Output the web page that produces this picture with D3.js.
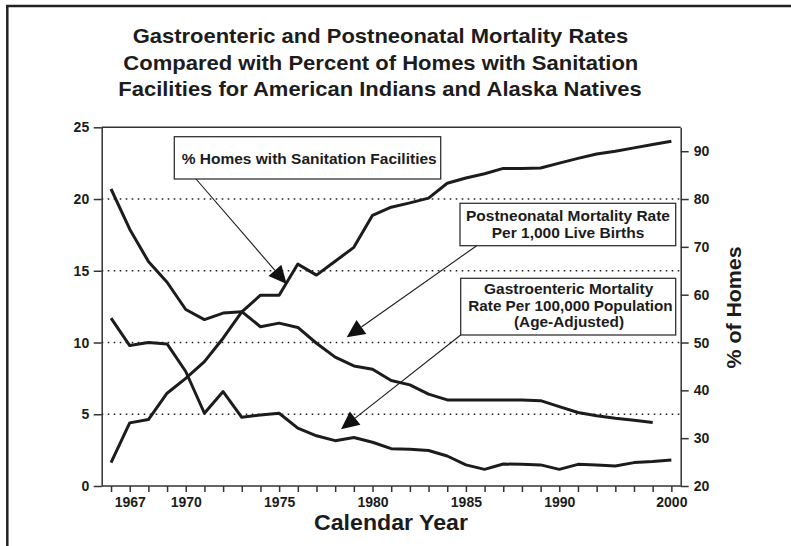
<!DOCTYPE html>
<html>
<head>
<meta charset="utf-8">
<script src="https://cdn.jsdelivr.net/npm/d3@7"></script>
<style>
  html, body { margin: 0; padding: 0; background: #fff; }
  svg { display: block; font-family: "Liberation Sans", Arial, Helvetica, sans-serif; }
</style>
</head>
<body>
<svg id="chart" width="791" height="546"></svg>
<script>
// ---- DATA ----
const years = ["1966","1967","1968","1969","1970","1971","1972","1973","1974","1975",
               "1976","1977","1978","1979","1980","1981","1982","1983","1984","1985",
               "1986","1987","1988","1989","1990","1991","1992","1994","1996","1998","2000"];
const tickLabels = ["1967","1970","1975","1980","1985","1990","2000"];
const postneonatal = [20.7, 17.9, 15.65, 14.2, 12.3, 11.6, 12.05, 12.15, 11.1, 11.35,
                      11.05, 9.95, 8.98, 8.37, 8.14, 7.35, 7.05, 6.4, 6.0, 6.0,
                      6.0, 6.0, 6.0, 5.95, 5.53, 5.12, 4.9, 4.72, 4.58, 4.42, null];
const gastro = [11.7, 9.79, 10.0, 9.9, 7.98, 5.07, 6.58, 4.79, 4.95, 5.07,
                4.03, 3.5, 3.16, 3.38, 3.05, 2.6, 2.56, 2.47, 2.09, 1.47,
                1.16, 1.53, 1.51, 1.47, 1.16, 1.51, 1.47, 1.40, 1.63, 1.70, 1.81];
const homes = [24.9, 33.2, 33.9, 39.4, 42.5, 46.0, 50.9, 56.4, 59.9, 59.9,
               66.4, 64.1, 67.0, 69.9, 76.6, 78.3, 79.2, 80.2, 83.3, 84.4,
               85.3, 86.4, 86.4, 86.5, 87.5, 88.5, 89.4, 90.0, 90.7, 91.4, 92.1];
const leftTicks = [0, 5, 10, 15, 20, 25];
const rightTicks = [20, 30, 40, 50, 60, 70, 80, 90];
const gridValues = [5, 10, 15, 20];
const titleLines = ["Gastroenteric and Postneonatal Mortality Rates",
                    "Compared with Percent of Homes with Sanitation",
                    "Facilities for American Indians and Alaska Natives"];

// ---- LAYOUT ----
const L = 101.7, R = 680.7, T = 127.3, B = 486;
const svg = d3.select("#chart");
const ink = "#1c1c1c";

const x = d3.scalePoint().domain(years).range([L, R]).padding(0.5);
const yL = d3.scaleLinear().domain([0, 25]).range([B, T]);
const yR = d3.scaleLinear().domain([20, 95]).range([B, T]);

// outer frame (top + left edges)
svg.append("line").attr("x1", 6).attr("x2", 791).attr("y1", 6).attr("y2", 6)
  .attr("stroke", "#222").attr("stroke-width", 2.5);
svg.append("line").attr("x1", 7.3).attr("x2", 7.3).attr("y1", 5).attr("y2", 546)
  .attr("stroke", "#222").attr("stroke-width", 2.5);

// title
const titleX = [132.7, 123.3, 118.3], titleW = [495.6, 515, 523.4], titleY = [43, 69.5, 96];
titleLines.forEach((t, i) => {
  svg.append("text").attr("x", titleX[i]).attr("y", titleY[i])
    .attr("font-size", 21).attr("font-weight", "bold").attr("fill", ink)
    .attr("textLength", titleW[i]).attr("lengthAdjust", "spacingAndGlyphs")
    .text(t);
});

// gridlines
svg.append("g").selectAll("line").data(gridValues).join("line")
  .attr("x1", L).attr("x2", R)
  .attr("y1", d => yL(d)).attr("y2", d => yL(d))
  .attr("stroke", "#222").attr("stroke-width", 1.6)
  .attr("stroke-dasharray", "1.6,4.4");

// top border of plot
svg.append("line").attr("x1", L).attr("x2", R).attr("y1", T).attr("y2", T)
  .attr("stroke", "#333").attr("stroke-width", 1.5);

function styleAxis(g) {
  g.select(".domain").attr("stroke", "#333").attr("stroke-width", 1.5);
  g.selectAll(".tick line").attr("stroke", "#333").attr("stroke-width", 1.5);
  g.selectAll(".tick text").attr("fill", ink).attr("font-size", 14)
    .attr("font-weight", "bold").attr("font-family", "'Liberation Sans', Arial, sans-serif");
}

// left axis
const gL = svg.append("g").attr("transform", `translate(${L},0)`)
  .call(d3.axisLeft(yL).tickValues(leftTicks).tickSize(8).tickSizeOuter(0).tickPadding(4.5));
styleAxis(gL);

// right axis
const gR = svg.append("g").attr("transform", `translate(${R},0)`)
  .call(d3.axisRight(yR).tickValues(rightTicks).tickSize(8).tickSizeOuter(0).tickPadding(5));
styleAxis(gR);

// bottom axis
const gB = svg.append("g").attr("transform", `translate(0,${B})`)
  .call(d3.axisBottom(x).tickSize(6).tickSizeOuter(0)
        .tickFormat(d => tickLabels.includes(d) ? d : ""));
styleAxis(gB);
gB.selectAll(".tick text").attr("y", 11);
gB.select(".domain").attr("d", `M${L},0H${R}`);

// series lines
const lineL = d3.line().defined(d => d[1] != null).x(d => x(d[0])).y(d => yL(d[1]));
const lineR = d3.line().defined(d => d[1] != null).x(d => x(d[0])).y(d => yR(d[1]));
const series = [
  { vals: postneonatal, gen: lineL },
  { vals: gastro, gen: lineL },
  { vals: homes, gen: lineR }
];
series.forEach(s => {
  svg.append("path").datum(years.map((y, i) => [y, s.vals[i]]))
    .attr("d", s.gen).attr("fill", "none").attr("stroke", ink)
    .attr("stroke-width", 3).attr("stroke-linejoin", "round");
});

// annotation boxes
const boxes = [
  { x0: 174.3, y0: 136.7, x1: 440.7, y1: 179,
    lines: [{ t: "% Homes with Sanitation Facilities", x: 181.7, y: 164, w: 255, anchor: "start" }] },
  { x0: 460, y0: 203.3, x1: 675.7, y1: 245.7,
    lines: [{ t: "Postneonatal Mortality Rate", x: 568, y: 220.7, w: 204 },
            { t: "Per 1,000 Live Births", x: 568, y: 237.7, w: 152.6 }] },
  { x0: 460.7, y0: 278.3, x1: 675.7, y1: 335,
    lines: [{ t: "Gastroenteric Mortality", x: 568.7, y: 293.5, w: 169.3 },
            { t: "Rate Per 100,000 Population", x: 570.5, y: 310.5, w: 204.4 },
            { t: "(Age-Adjusted)", x: 569, y: 326.5, w: 110 }] }
];
boxes.forEach(b => {
  svg.append("rect").attr("x", b.x0).attr("y", b.y0)
    .attr("width", b.x1 - b.x0).attr("height", b.y1 - b.y0)
    .attr("fill", "#fff").attr("stroke", "#333").attr("stroke-width", 1.3);
  b.lines.forEach(l => {
    svg.append("text").attr("x", l.anchor === "start" ? l.x : l.x - l.w / 2).attr("y", l.y)
      .attr("font-size", 15).attr("font-weight", "bold").attr("fill", ink)
      .attr("textLength", l.w).attr("lengthAdjust", "spacingAndGlyphs")
      .text(l.t);
  });
});

// arrows
const arrows = [
  { from: [196, 179], to: [286.7, 284] },
  { from: [476.7, 245.7], to: [346.7, 337.3] },
  { from: [460.7, 335], to: [341, 429.3] }
];
arrows.forEach(a => {
  const dx = a.to[0] - a.from[0], dy = a.to[1] - a.from[1];
  const len = Math.hypot(dx, dy), ux = dx / len, uy = dy / len;
  const hl = 18, hw = 8.5;
  const bx = a.to[0] - ux * hl, by = a.to[1] - uy * hl;
  svg.append("line").attr("x1", a.from[0]).attr("y1", a.from[1])
    .attr("x2", bx).attr("y2", by).attr("stroke", ink).attr("stroke-width", 1.1);
  svg.append("path")
    .attr("d", `M${a.to[0]},${a.to[1]}L${bx - uy * hw},${by + ux * hw}L${bx + uy * hw},${by - ux * hw}Z`)
    .attr("fill", "#111");
});

// axis titles
svg.append("text").attr("x", 391).attr("y", 530).attr("text-anchor", "middle")
  .attr("font-size", 22).attr("font-weight", "bold").attr("fill", ink)
  .attr("textLength", 154).attr("lengthAdjust", "spacingAndGlyphs")
  .text("Calendar Year");
svg.append("text").attr("transform", "translate(741,307.5) rotate(-90)")
  .attr("text-anchor", "middle")
  .attr("font-size", 21).attr("font-weight", "bold").attr("fill", ink)
  .attr("textLength", 122).attr("lengthAdjust", "spacingAndGlyphs")
  .text("% of Homes");
</script>
</body>
</html>
